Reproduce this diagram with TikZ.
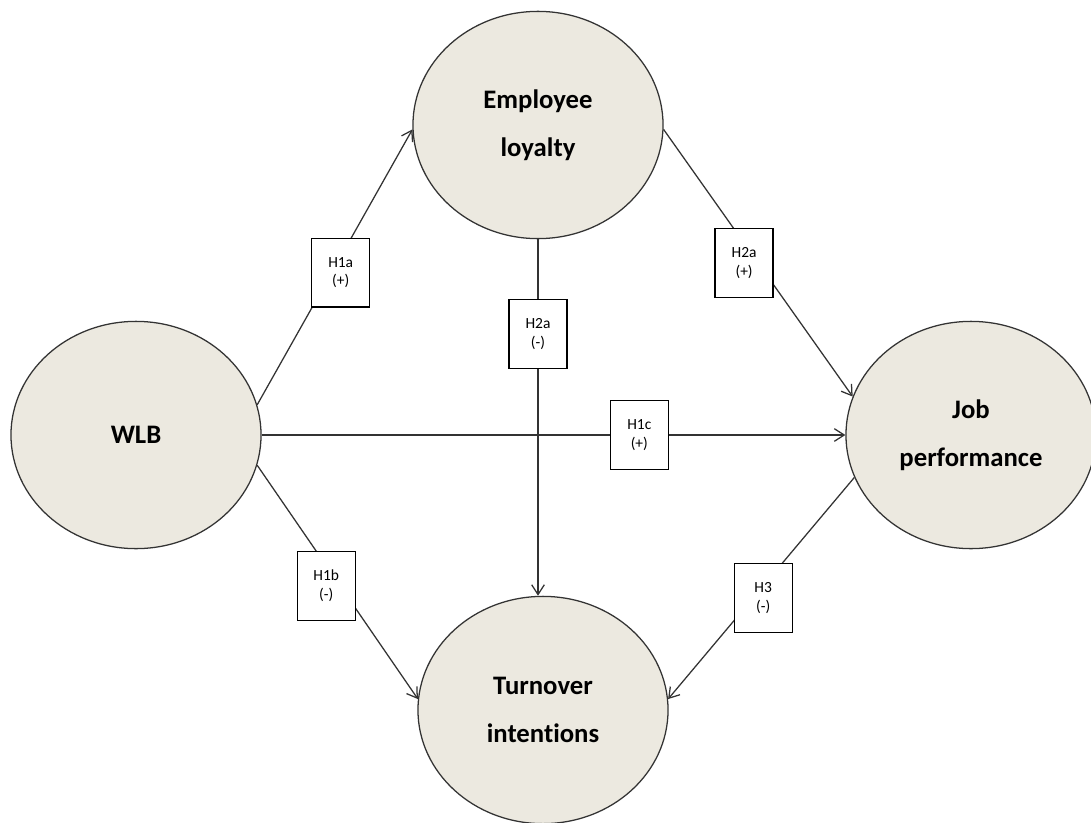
\documentclass[tikz,border=0pt]{standalone}
\usepackage{fontspec}
\setmainfont{Carlito}[Ligatures=NoCommon]
\usetikzlibrary{shapes.geometric,arrows.meta}
\definecolor{ellfill}{RGB}{236,233,224}
\definecolor{linegray}{RGB}{51,51,51}

\begin{document}
\begin{tikzpicture}[x=0.025cm, y=-0.025cm,
    construct/.style={ellipse, draw=linegray, line width=0.9pt, fill=ellfill,
        minimum width=6.25cm, minimum height=5.68cm, inner sep=0pt, align=center,
        font=\fontsize{19}{34}\selectfont\bfseries},
    hyp/.style={draw=black, line width=0.9pt, fill=white, minimum width=1.45cm,
        minimum height=1.72cm, inner sep=0pt, align=center,
        font=\fontsize{11}{13.5}\selectfont},
    arr/.style={draw=linegray, line width=0.9pt, -{Straight Barb[length=7pt,width=9pt]}}]
    \clip (0,0) rectangle (1091,822);
    % constructs
    \node[construct] (wlb) at (136,435) {WLB};
    \node[construct] (el) at (538,125) {Employee\\loyalty};
    \node[construct] (jp) at (971,435) {Job\\performance};
    \node[construct] (ti) at (543,710) {Turnover\\intentions};
    % paths
    \draw[arr] (wlb.14) -- node[hyp, pos=0.48, xshift=0.225cm, name=h1a] {H1a\\(+)} (el.182);
    \draw[arr] (wlb.east) -- node[hyp, pos=0.647, name=h1c] {H1c\\(+)} (jp.west);
    \draw[arr] (wlb.-14) -- node[hyp, pos=0.517, xshift=-0.35cm, name=h1b] {H1b\\(-)} (ti.175);
    \draw[arr] (el.south) -- node[hyp, pos=0.265, name=h2b] {H2a\\(-)} (el.south |- ti.north);
    \draw[arr] (el.-2) -- node[hyp, pos=0.5, xshift=-0.35cm, name=h2a] {H2a\\(+)} (jp.162);
    \draw[arr] (jp.200) -- node[hyp, pos=0.543, xshift=0.25cm, name=h3] {H3\\(-)} (ti.5);
\end{tikzpicture}
\end{document}
